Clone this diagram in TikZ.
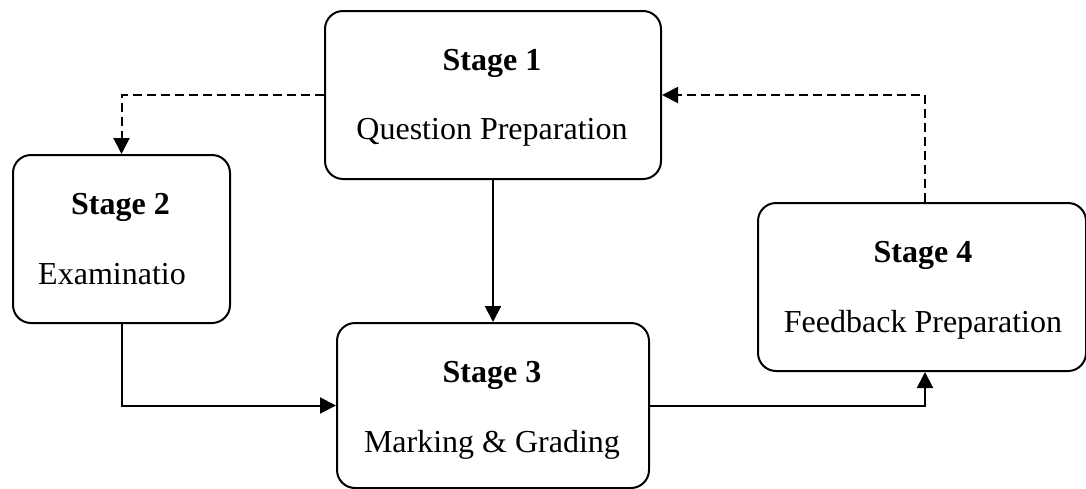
\documentclass[tikz,border=0pt]{standalone}
\usepackage{fontspec}
\setmainfont{Liberation Serif}
\usetikzlibrary{arrows.meta}
\begin{document}
\begin{tikzpicture}[x=1pt,y=-1pt,
  stagebox/.style={draw, line width=2pt, rounded corners=18pt, inner sep=0pt, anchor=north west},
  title/.style={anchor=base, inner sep=0pt, font=\fontsize{32}{36}\selectfont\bfseries},
  desc/.style={anchor=base, inner sep=0pt, font=\fontsize{32}{36}\selectfont},
  flow/.style={line width=2pt, -{Triangle[length=16pt,width=16pt]}},
  loopback/.style={flow, dash pattern=on 9pt off 5pt}]
\useasboundingbox (0,0) rectangle (1086,488);

% stage boxes
\node[stagebox, minimum width=336pt, minimum height=168pt] (s1) at (324,10) {};
\node[stagebox, minimum width=217pt, minimum height=168pt] (s2) at (12,154) {};
\node[stagebox, minimum width=312pt, minimum height=165pt] (s3) at (336,322) {};
\node[stagebox, minimum width=328pt, minimum height=168pt] (s4) at (757,202) {};

% stage texts
\node[title] (t1) at (492,70) {Stage 1};
\node[desc]  (d1) at (492,139) {Question Preparation};
\node[title] (t2) at (120.5,214) {Stage 2};
\node[desc]  (d2) at (112,284) {Examinatio};
\node[title] (t3) at (492,382) {Stage 3};
\node[desc]  (d3) at (492,452) {Marking \& Grading};
\node[title] (t4) at (923,262) {Stage 4};
\node[desc]  (d4) at (923,332) {Feedback Preparation};

% connectors
\draw[loopback] (s1.west) -| (s2.north);
\draw[flow] (s1.south) -- (s3.north);
\draw[flow] (s2.south) |- (s3.west);
\draw[flow] (s3.east) -| ([xshift=3pt]s4.south);
\draw[loopback] ([xshift=3pt]s4.north) |- (s1.east);
\end{tikzpicture}
\end{document}
